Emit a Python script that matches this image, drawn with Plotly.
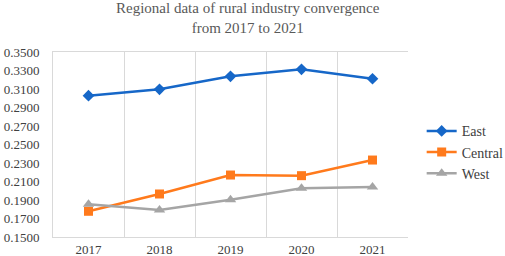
import plotly.graph_objects as go

years = ["2017", "2018", "2019", "2020", "2021"]
east = [0.3028, 0.3097, 0.3237, 0.3313, 0.3211]
central = [0.1778, 0.1965, 0.2170, 0.2163, 0.2332]
west = [0.1853, 0.1792, 0.1903, 0.2026, 0.2040]

font_family = "Liberation Serif"

fig = go.Figure()
series = [
    ("East", east, "#1667C8", "diamond", 9),
    ("Central", central, "#FF7A1C", "square", 9),
    ("West", west, "#A5A5A5", "triangle-up", 10),
]
for name, vals, col, sym, sz in series:
    fig.add_trace(go.Scatter(
        x=years, y=vals, name=name, mode="lines+markers",
        line=dict(color=col, width=2.5),
        marker=dict(symbol=sym, size=sz, color=col),
    ))

fig.add_annotation(
    text="Regional data of rural industry convergence<br>from 2017 to 2021",
    xref="paper", yref="paper", x=0.549, y=1.182,
    xanchor="center", yanchor="middle", showarrow=False,
    font=dict(family=font_family, size=15, color="#595959"),
)

fig.update_layout(
    width=505, height=256,
    margin=dict(l=53, r=97, t=52, b=19, autoexpand=False),
    paper_bgcolor="white", plot_bgcolor="white",
    font=dict(family=font_family, size=13, color="#404040"),
    showlegend=True,
    legend=dict(
        xref="container", yref="container",
        x=0.835, xanchor="left", y=0.405, yanchor="middle",
        font=dict(family=font_family, size=14, color="#404040"),
        tracegroupgap=0,
    ),
    xaxis=dict(
        type="category", tickson="boundaries", showgrid=True,
        range=[-0.5, 4.5],
        gridcolor="#D9D9D9", gridwidth=1,
        showline=True, linecolor="#D9D9D9", linewidth=1, mirror=True,
        ticks="", tickfont=dict(size=13, color="#404040"),
        zeroline=False, automargin=False,
    ),
    yaxis=dict(
        range=[0.15, 0.35], dtick=0.02, tick0=0.15, tickformat=".4f",
        showgrid=False, zeroline=False,
        showline=True, linecolor="#D9D9D9", linewidth=1,
        ticks="", ticklabelstandoff=10, tickfont=dict(size=13, color="#404040"),
        automargin=False,
    ),
)

fig.write_html("out.html", config={"displayModeBar": False},
               post_script="document.body.style.margin='0';")
